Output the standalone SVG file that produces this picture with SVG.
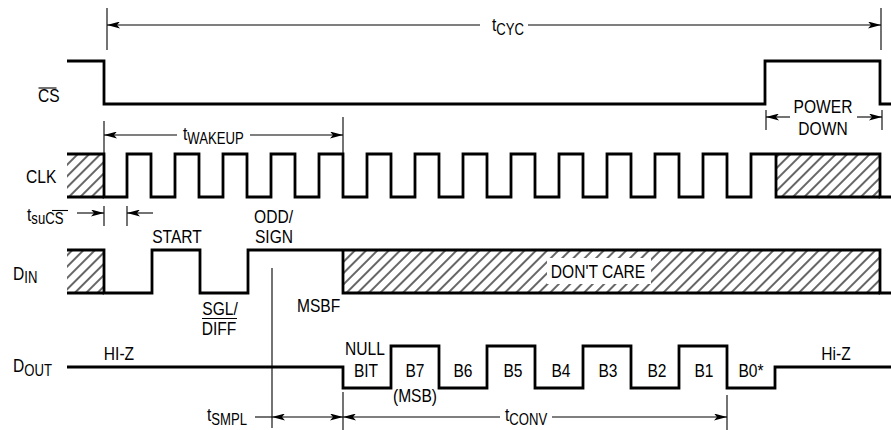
<svg xmlns="http://www.w3.org/2000/svg" width="891" height="430" viewBox="0 0 891 430">
<style>
.sig{fill:none;stroke:#000;stroke-width:2.8;stroke-linejoin:miter;stroke-linecap:butt}
.dim{fill:none;stroke:#000;stroke-width:1.1}
.tick{stroke:#000;stroke-width:1.1}
.hatch{fill:url(#hatch);stroke:none}
text{font-family:"Liberation Sans",Arial,sans-serif;font-size:19px;fill:#000}
.c{text-anchor:middle}
.e{text-anchor:end}
.sub{font-size:16px}
</style>
<defs>
<pattern id="hatch" patternUnits="userSpaceOnUse" width="8" height="8" patternTransform="rotate(45)">
<line x1="4" y1="0" x2="4" y2="8" stroke="#000" stroke-width="1.2"/>
</pattern>
<marker id="ah" viewBox="0 0 13 7" refX="13" refY="3.5" markerWidth="13" markerHeight="7" markerUnits="userSpaceOnUse" orient="auto-start-reverse">
<path d="M0,0 L13,3.5 L0,7 L3,3.5 z" fill="#000"/>
</marker>
</defs>
<rect width="891" height="430" fill="#fff"/>

<g id="signal-cs">
<path class="sig" d="M67,61 H104 V104 H765 V61 H880 V104 H891"/>
<text transform="translate(38,102) scale(0.82,1)">CS</text>
<line class="tick" x1="38.5" y1="88" x2="56.5" y2="88"/>
</g>

<g id="signal-clk">
<rect class="hatch" x="67" y="154" width="37" height="43"/>
<rect class="hatch" x="776" y="154" width="104" height="43"/>
<path class="sig" d="M67,154 H104 V197 H127 V154 H151 V197 H175 V154 H199 V197 H223 V154 H247 V197 H271 V154 H295 V197 H319 V154 H343 V197 H367 V154 H391 V197 H415 V154 H439 V197 H463 V154 H487 V197 H511 V154 H535 V197 H559 V154 H583 V197 H607 V154 H631 V197 H655 V154 H679 V197 H703 V154 H727 V197 H751 V154 H880 V197 H891"/>
<path class="sig" d="M67,197 H104 M776,154 V197 H880"/>
<text transform="translate(26,183) scale(0.82,1)">CLK</text>
</g>

<g id="signal-din">
<rect class="hatch" x="67" y="250" width="37" height="43"/>
<rect class="hatch" x="343" y="250" width="537" height="43"/>
<rect x="547" y="258" width="104" height="26" fill="#fff"/>
<path class="sig" d="M67,250 H104 V293 H152 V250 H200 V293 H248 V250 H880 V293 H891"/>
<path class="sig" d="M67,293 H104 M343,250 V293 H880"/>
<text transform="translate(13,280) scale(0.82,1)">D<tspan class="sub" dy="3">IN</tspan></text>
<text class="c" transform="translate(598,278) scale(0.82,1)">DON'T CARE</text>
<text class="c" transform="translate(177,243) scale(0.82,1)">START</text>
<text class="e" transform="translate(293,223) scale(0.82,1)">ODD/</text>
<text class="e" transform="translate(293,243) scale(0.82,1)">SIGN</text>
<text class="c" transform="translate(220,315) scale(0.82,1)">SGL/</text>
<line class="tick" x1="202" y1="318.5" x2="237" y2="318.5"/>
<text class="c" transform="translate(219,335) scale(0.82,1)">DIFF</text>
<text transform="translate(297,312) scale(0.82,1)">MSBF</text>
</g>

<g id="signal-dout">
<path class="sig" d="M67,367 H343 V388 H391 V346 H439 V388 H487 V346 H535 V388 H583 V346 H631 V388 H679 V346 H727 V388 H775 V367 H891"/>
<text transform="translate(13,372) scale(0.82,1)">D<tspan class="sub" dy="4">OUT</tspan></text>
<text class="c" transform="translate(119,360) scale(0.82,1)">HI-Z</text>
<text class="c" transform="translate(365,355) scale(0.82,1)">NULL</text>
<text class="c" transform="translate(366,377) scale(0.82,1)">BIT</text>
<text class="c" transform="translate(415,377) scale(0.82,1)">B7</text>
<text class="c" transform="translate(415,402) scale(0.82,1)">(MSB)</text>
<text class="c" transform="translate(463,377) scale(0.82,1)">B6</text>
<text class="c" transform="translate(513,377) scale(0.82,1)">B5</text>
<text class="c" transform="translate(561,377) scale(0.82,1)">B4</text>
<text class="c" transform="translate(608,377) scale(0.82,1)">B3</text>
<text class="c" transform="translate(657,377) scale(0.82,1)">B2</text>
<text class="c" transform="translate(704,377) scale(0.82,1)">B1</text>
<text class="c" transform="translate(751,377) scale(0.82,1)">B0*</text>
<text class="c" transform="translate(836,360) scale(0.82,1)">Hi-Z</text>
</g>

<g id="connectors">
<line class="tick" x1="107" y1="8" x2="107" y2="50"/>
<line class="tick" x1="881" y1="8" x2="881" y2="50"/>
<line class="dim" x1="107" y1="25" x2="480" y2="25" marker-start="url(#ah)"/>
<line class="dim" x1="528" y1="25" x2="881" y2="25" marker-end="url(#ah)"/>
<text transform="translate(492,31) scale(0.82,1)">t<tspan class="sub" dy="4">CYC</tspan></text>
<line class="tick" x1="766" y1="110" x2="766" y2="130"/>
<line class="tick" x1="882" y1="110" x2="882" y2="130"/>
<line class="dim" x1="766" y1="117" x2="790" y2="117" marker-start="url(#ah)"/>
<line class="dim" x1="857" y1="117" x2="882" y2="117" marker-end="url(#ah)"/>
<text class="c" transform="translate(823,113) scale(0.82,1)">POWER</text>
<text class="c" transform="translate(823,135) scale(0.82,1)">DOWN</text>
<line class="tick" x1="104" y1="121" x2="104" y2="153"/>
<line class="tick" x1="343" y1="117" x2="343" y2="153"/>
<line class="dim" x1="104" y1="135" x2="177" y2="135" marker-start="url(#ah)"/>
<line class="dim" x1="250" y1="135" x2="343" y2="135" marker-end="url(#ah)"/>
<text transform="translate(183,140) scale(0.82,1)">t<tspan class="sub" dy="4">WAKEUP</tspan></text>
<line class="tick" x1="104" y1="206" x2="104" y2="226"/>
<line class="tick" x1="127" y1="206" x2="127" y2="226"/>
<line class="dim" x1="77" y1="213" x2="104" y2="213" marker-end="url(#ah)"/>
<line class="dim" x1="153" y1="213" x2="127" y2="213" marker-end="url(#ah)"/>
<text transform="translate(27,221) scale(0.82,1)">t<tspan class="sub" dy="3">suCS</tspan></text>
<line class="tick" x1="52" y1="210.5" x2="68" y2="210.5"/>
<line class="tick" x1="272" y1="268" x2="272" y2="428"/>
<line class="tick" x1="343" y1="392" x2="343" y2="430"/>
<line class="tick" x1="727" y1="395" x2="727" y2="430"/>
<line class="dim" x1="255" y1="417" x2="272" y2="417"/>
<line class="dim" x1="272" y1="417" x2="343" y2="417" marker-start="url(#ah)" marker-end="url(#ah)"/>
<text transform="translate(207,421) scale(0.82,1)">t<tspan class="sub" dy="4">SMPL</tspan></text>
<line class="dim" x1="343" y1="417" x2="500" y2="417" marker-start="url(#ah)"/>
<line class="dim" x1="552" y1="417" x2="727" y2="417" marker-end="url(#ah)"/>
<text transform="translate(505,421) scale(0.82,1)">t<tspan class="sub" dy="4">CONV</tspan></text>
</g>
</svg>
